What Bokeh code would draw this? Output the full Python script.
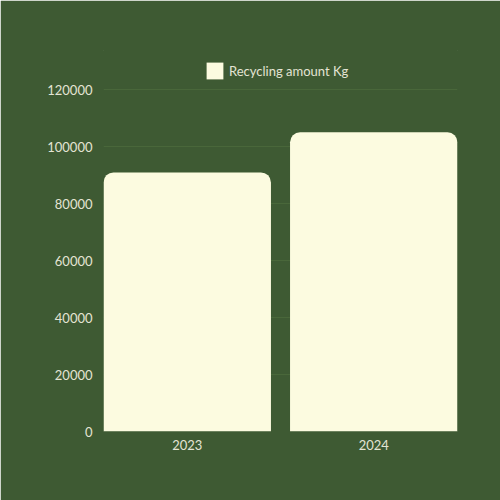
from bokeh.plotting import figure
from bokeh.models import ColumnDataSource, FactorRange, Range1d, Legend, LegendItem, FixedTicker
from bokeh.embed import file_html
from bokeh.resources import INLINE

years = ["2023", "2024"]
amounts = [90900, 105000]
y_ticks = [0, 20000, 40000, 60000, 80000, 100000, 120000]
series_name = "Recycling amount Kg"

BG = "#3e5a33"
BAR = "#fcfbe0"
TXT = "#e4e4d4"
FONT = "Lato"

# frame runs from y=50 to y=431 px; 120000 sits at y=89 px
y_top = 120000 * (431 - 50) / (431 - 89)

src = ColumnDataSource(dict(x=years, y=amounts))

p = figure(
    x_range=FactorRange(*years, range_padding=0, factor_padding=0.114),
    y_range=Range1d(0, y_top),
    width=500, height=500,
    min_border_left=103, min_border_right=43, min_border_top=50, min_border_bottom=69,
    output_backend="svg", toolbar_location=None,
    background_fill_color=BG, border_fill_color=BG,
)
p.outline_line_color = BG
p.outline_line_width = 1

r = p.vbar(x="x", top="y", width=1.0, source=src, fill_color=BAR, line_color=None,
           border_radius=(10, 10, 0, 0))

p.yaxis.ticker = FixedTicker(ticks=y_ticks)
for ax in (p.xaxis[0], p.yaxis[0]):
    ax.axis_line_color = None
    ax.major_tick_line_color = None
    ax.minor_tick_line_color = None
    ax.major_tick_out = 0
    ax.major_tick_in = 0
    ax.minor_tick_out = 0
    ax.minor_tick_in = 0
    ax.major_label_text_color = TXT
    ax.major_label_text_font = FONT
    ax.major_label_text_font_size = "13px"
p.yaxis.major_label_standoff = 11
p.xaxis.major_label_standoff = 8
p.yaxis.formatter.use_scientific = False

p.xgrid.grid_line_color = None
p.ygrid.grid_line_color = "#52703f"
p.ygrid.grid_line_alpha = 0.6

legend = Legend(items=[LegendItem(label=series_name, renderers=[r])],
                location=(101, 350), orientation="horizontal",
                background_fill_alpha=0, border_line_color=None,
                padding=0, margin=0, spacing=0,
                glyph_width=21, glyph_height=21, label_height=21,
                label_standoff=4,
                label_text_color=TXT, label_text_font=FONT, label_text_font_size="13px")
p.add_layout(legend, "center")

html = file_html(p, INLINE)
open("out.html", "w").write(html)
